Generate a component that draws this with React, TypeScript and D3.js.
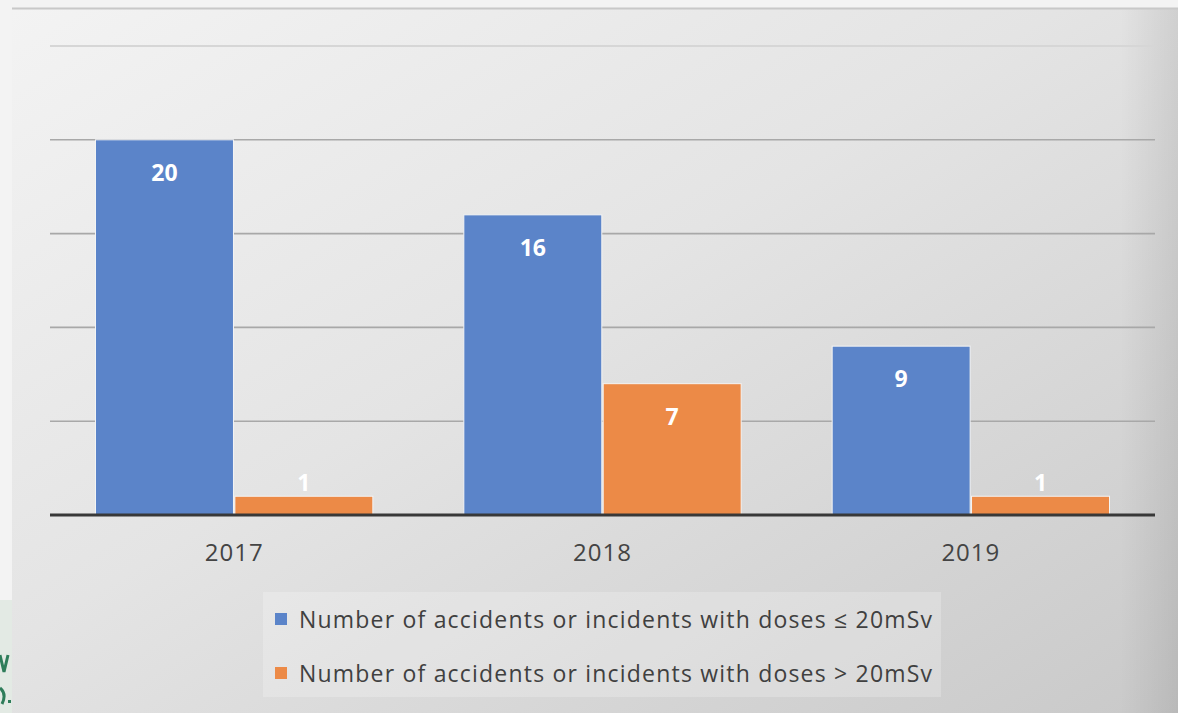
import React from "react";
import * as d3 from "d3";

const years = ["2017", "2018", "2019"];
const seriesNames = [
  "Number of accidents or incidents with doses  ≤ 20mSv",
  "Number of accidents or incidents with doses > 20mSv",
];
const lowDose = [20, 16, 9];
const highDose = [1, 7, 1];
const seriesColors = ["#5b84c9", "#ec8a47"];
const yTicks = [0, 5, 10, 15, 20, 25];

const W = 1178;
const H = 713;
const plotLeft = 50;
const plotRight = 1155;
const baseY = 515;
const topY = 46;

export default function App() {
  const x = d3.scaleBand<string>().domain(years).range([plotLeft, plotRight]).paddingInner(0.247).paddingOuter(0.1235);
  const x1 = d3.scaleBand<number>().domain([0, 1]).range([0, x.bandwidth()]).paddingInner(0.01);
  const y = d3.scaleLinear().domain([0, 25]).range([baseY, topY]);
  const series = [lowDose, highDose];
  const font = "'Open Sans', 'Noto Sans', sans-serif";

  return (
    <svg width={W} height={H} style={{ position: "absolute", left: 0, top: 0, display: "block" }} fontFamily={font}>
      <defs>
        <linearGradient id="bg" x1="0" y1="0" x2="1" y2="1">
          <stop offset="0" stopColor="#f3f3f3" />
          <stop offset="0.45" stopColor="#e4e4e4" />
          <stop offset="1" stopColor="#c9c9c9" />
        </linearGradient>
        <linearGradient id="edge" x1="0" y1="0" x2="1" y2="0">
          <stop offset="0" stopColor="#000" stopOpacity="0" />
          <stop offset="1" stopColor="#000" stopOpacity="0.08" />
        </linearGradient>
      </defs>
      <rect x={0} y={0} width={W} height={H} fill="#f3f3f3" />
      <rect x={12} y={8} width={W - 12} height={H - 8} fill="url(#bg)" />
      <rect x={1120} y={8} width={58} height={H - 8} fill="url(#edge)" />
      <line x1={12} x2={W} y1={8.5} y2={8.5} stroke="#c8c8c8" strokeWidth={2} />
      {/* logo fragment */}
      <rect x={0} y={600} width={12} height={113} fill="#e3eae4" />
      <path d="M0,655 L4,672 L8,655" fill="none" stroke="#2e7d5a" strokeWidth={3} />
      <path d="M0,688 Q7,694 2,704" fill="none" stroke="#2e7d5a" strokeWidth={3} />
      <rect x={8} y={700} width={3} height={3} fill="#2e7d5a" />

      {yTicks.filter((t) => t > 0).map((t) => (
        <line key={t} x1={plotLeft} x2={plotRight} y1={y(t)} y2={y(t)} stroke={t === 25 ? "#d6d6d6" : "#a8a8a8"} strokeWidth={t === 25 ? 2 : 1.6} />
      ))}

      {years.map((yr, i) => (
        <g key={yr} transform={`translate(${x(yr)},0)`}>
          {series.map((s, k) => {
            const v = s[i];
            const bx = x1(k)!;
            const bw = x1.bandwidth();
            const top = y(v);
            const inside = baseY - top > 40;
            return (
              <g key={k}>
                <rect x={bx} y={top} width={bw} height={baseY - top} fill={seriesColors[k]} stroke="#f4f4f4" strokeWidth={1} />
                <text
                  x={bx + bw / 2}
                  y={inside ? top + 41 : top - 5}
                  textAnchor="middle"
                  fontSize={23}
                  fontWeight="bold"
                  fill="#ffffff"
                >
                  {v}
                </text>
              </g>
            );
          })}
        </g>
      ))}

      <line x1={plotLeft} x2={plotRight} y1={baseY} y2={baseY} stroke="#383838" strokeWidth={3} />

      {years.map((yr) => (
        <text key={yr} x={x(yr)! + x.bandwidth() / 2} y={561} textAnchor="middle" fontSize={24} letterSpacing={1} fill="#444">
          {yr}
        </text>
      ))}

      <rect x={263} y={592} width={678} height={105} fill="#ffffff" fillOpacity={0.22} />
      {seriesNames.map((n, k) => (
        <g key={n} transform={`translate(275, ${620 + k * 54})`}>
          <rect x={0} y={-7} width={12} height={12} fill={seriesColors[k]} />
          <text x={24} y={8} fontSize={23} letterSpacing={1.2} fill="#404040">{n}</text>
        </g>
      ))}
    </svg>
  );
}
